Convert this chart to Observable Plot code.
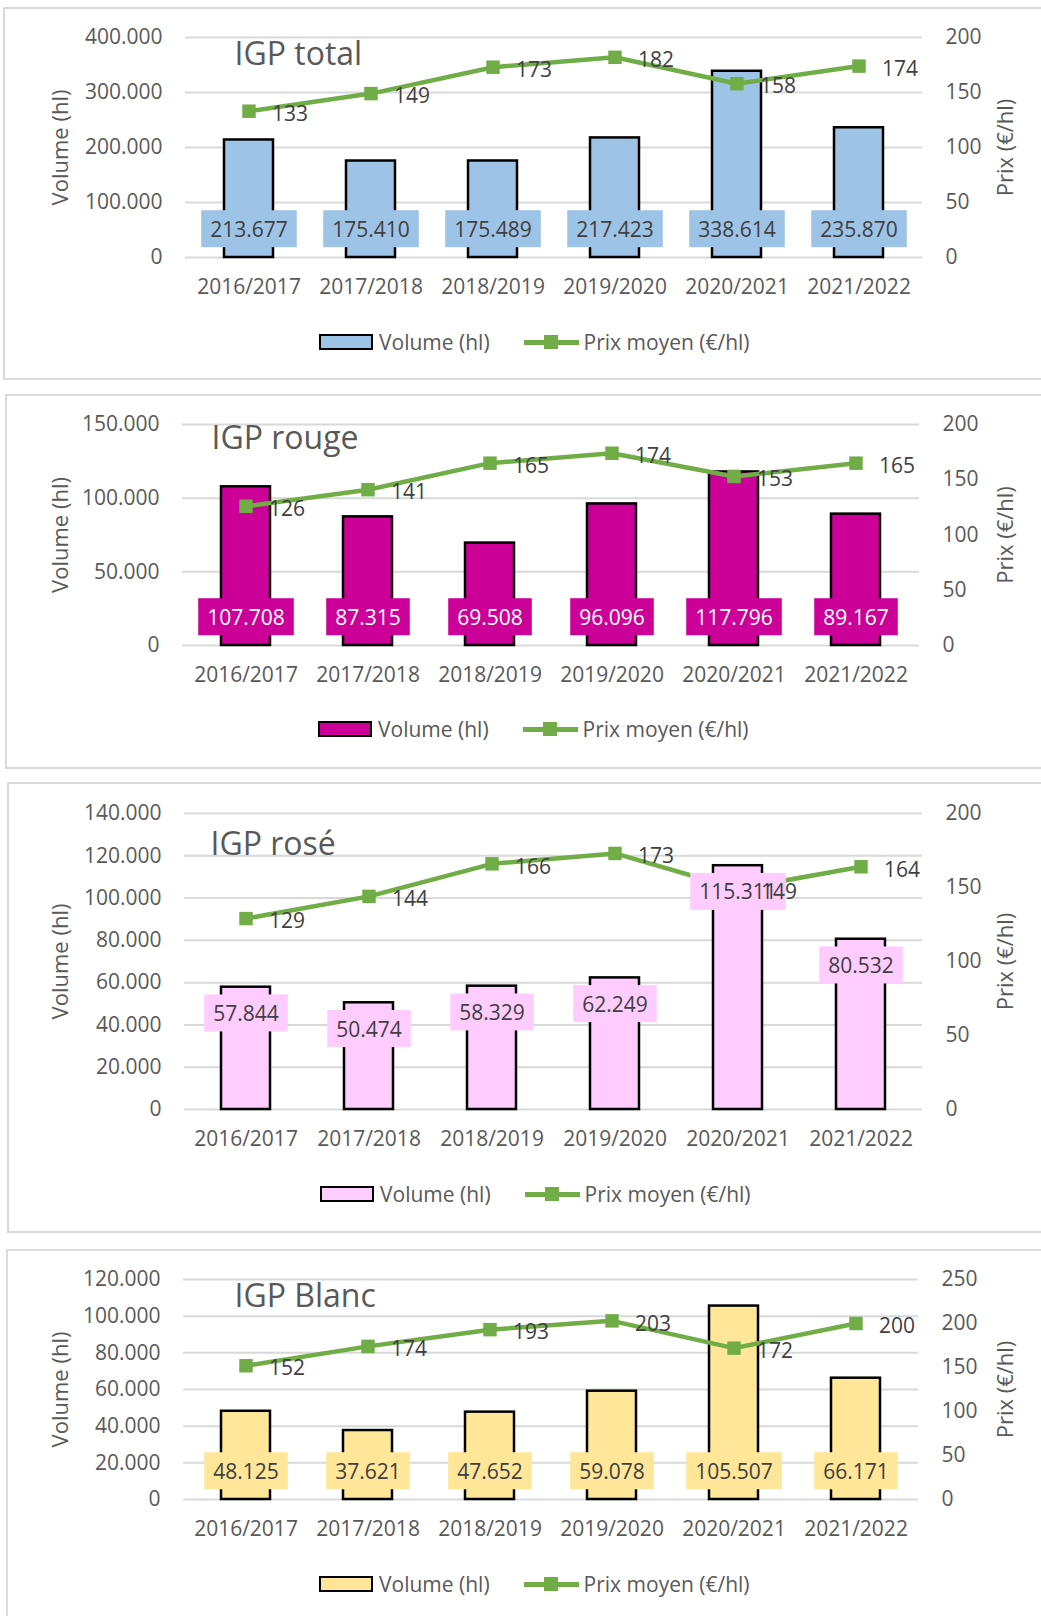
<!DOCTYPE html>
<html><head><meta charset="utf-8">
<script src="https://cdn.jsdelivr.net/npm/d3@7"></script>
<script src="https://cdn.jsdelivr.net/npm/@observablehq/plot@0.6"></script>
<style>
html,body{margin:0;padding:0;background:#fff;overflow:hidden;}
#root{position:relative;width:1041px;height:1616px;overflow:hidden;font-family:"Open Sans",sans-serif;}
.panel{position:absolute;border:2px solid #D9D9D9;box-sizing:border-box;background:#fff;}
.chart{position:absolute;}
.legend{position:absolute;display:flex;align-items:center;height:30px;font-size:21px;color:#595959;white-space:nowrap;}
.sw{width:50px;height:12px;border:2.5px solid #000;margin-right:6px;}
.ln{position:relative;width:55px;height:5px;background:#70AD47;margin-left:34px;margin-right:5px;}
.ln::after{content:"";position:absolute;left:20px;top:-5px;width:14px;height:14px;background:#70AD47;}
</style></head><body><div id="root"></div><script>
const categories = ["2016/2017","2017/2018","2018/2019","2019/2020","2020/2021","2021/2022"];

const totalVolume = [213677,175410,175489,217423,338614,235870];
const totalPrice  = [133,149,173,182,158,174];
const rougeVolume = [107708,87315,69508,96096,117796,89167];
const rougePrice  = [126,141,165,174,153,165];
const roseVolume  = [57844,50474,58329,62249,115311,80532];
const rosePrice   = [129,144,166,173,149,164];
const blancVolume = [48125,37621,47652,59078,105507,66171];
const blancPrice  = [152,174,193,203,172,200];

const titles = ["IGP total","IGP rouge","IGP rosé","IGP Blanc"];
const volumeMax = [400000,150000,140000,120000];
const volumeStep = [100000,50000,20000,20000];
const priceMax = [200,200,200,250];
const priceStep = [50,50,50,50];

const series = [
  {volume: totalVolume, price: totalPrice},
  {volume: rougeVolume, price: rougePrice},
  {volume: roseVolume, price: rosePrice},
  {volume: blancVolume, price: blancPrice}
];

// layout / style per panel (pixels)
const layout = [
  {boxL:4, boxT:8,   boxB:379,  pL:185, pT:37,   pR:922, pB:257,  legY:342,  legX:319, tDx:49, tDy:5,  tSize:32, fill:"#9DC3E6", lab:"#404040", pos:"base"},
  {boxL:6, boxT:395, boxB:768,  pL:182, pT:424,  pR:919, pB:645,  legY:729,  legX:318, tDx:29, tDy:2,  tSize:32, fill:"#CC0099", lab:"#FFFFFF", pos:"base"},
  {boxL:8, boxT:783, boxB:1232, pL:184, pT:813,  pR:922, pB:1109, legY:1194, legX:320, tDx:26, tDy:19, tSize:32, fill:"#FFCCFF", lab:"#404040", pos:"end"},
  {boxL:7, boxT:1250,boxB:1660, pL:183, pT:1279, pR:918, pB:1499, legY:1584, legX:319, tDx:51, tDy:5,  tSize:32, fill:"#FFE699", lab:"#404040", pos:"base"}
];

const fmt = d => d3.format(",")(d).replace(/,/g, ".");
const root = document.getElementById("root");

layout.forEach((L, i) => {
  const panel = document.createElement("div");
  panel.className = "panel";
  Object.assign(panel.style, {left:(L.boxL-1)+"px", top:(L.boxT-1)+"px", width:"1100px", height:(L.boxB-L.boxT+2)+"px"});
  root.appendChild(panel);

  const W = 1041 - L.boxL;
  const H = Math.min(L.boxB, 1616) - L.boxT;
  const k = volumeMax[i] / priceMax[i];
  const s = series[i];
  const data = categories.map((c, j) => ({cat: c, vol: s.volume[j], price: s.price[j], py: s.price[j] * k}));
  const cls = "vlab" + i;

  const chart = Plot.plot({
    width: W, height: H,
    marginLeft: L.pL - L.boxL,
    marginRight: W - (L.pR - L.boxL),
    marginTop: L.pT - L.boxT,
    marginBottom: H - (L.pB - L.boxT),
    style: {fontFamily: "'Open Sans', sans-serif", fontSize: "21px", color: "#595959", background: "transparent", overflow: "visible"},
    x: {domain: categories, paddingInner: 0.6, paddingOuter: 0.3},
    y: {domain: [0, volumeMax[i]]},
    marks: [
      Plot.gridY(d3.range(0, volumeMax[i] + 1, volumeStep[i]), {stroke: "#D9D9D9", strokeOpacity: 1, strokeWidth: 2}),
      Plot.axisY(d3.range(0, volumeMax[i] + 1, volumeStep[i]), {anchor: "left", tickSize: 0, tickPadding: 23, tickFormat: fmt, label: null}),
      Plot.axisY(d3.range(0, priceMax[i] + 1, priceStep[i]).map(v => v * k), {anchor: "right", tickSize: 0, tickPadding: 23, tickFormat: d => String(Math.round(d / k)), label: null}),
      Plot.axisX({tickSize: 0, tickPadding: 22, label: null}),
      Plot.barY(data, {x: "cat", y: "vol", fill: L.fill, stroke: "#000", strokeWidth: 2.5}),
      Plot.line(data, {x: "cat", y: "py", stroke: "#70AD47", strokeWidth: 4.5}),
      Plot.dot(data, {x: "cat", y: "py", symbol: "square", r: 7.6, fill: "#70AD47", stroke: "none"}),
      Plot.text(data, {x: "cat", y: L.pos === "base" ? 0 : "vol", text: d => fmt(d.vol), dy: L.pos === "base" ? -27.5 : 27, fill: L.lab, fontSize: 21, className: cls}),
      Plot.text(data, {x: "cat", y: "py", text: d => String(d.price), dx: 23, dy: 3, textAnchor: "start", fill: "#404040", fontSize: 21}),
      Plot.text([titles[i]], {text: d => d, frameAnchor: "top-left", textAnchor: "start", lineAnchor: "top", dx: L.tDx, dy: L.tDy, fontSize: L.tSize, fill: "#595959"}),
      Plot.text(["Volume (hl)"], {text: d => d, frameAnchor: "left", textAnchor: "middle", rotate: -90, dx: 60 - L.pL, fontSize: 22, fill: "#595959"}),
      Plot.text(["Prix (€/hl)"], {text: d => d, frameAnchor: "right", textAnchor: "middle", rotate: -90, dx: 1005 - L.pR, fontSize: 22, fill: "#595959"})
    ]
  });
  chart.classList.add("chart");
  chart.style.left = L.boxL + "px";
  chart.style.top = L.boxT + "px";
  root.appendChild(chart);

  // background boxes behind volume labels
  chart.querySelectorAll("g." + cls + " text").forEach(t => {
    const b = t.getBBox();
    const r = document.createElementNS("http://www.w3.org/2000/svg", "rect");
    const cy = b.y + b.height / 2;
    r.setAttribute("x", b.x - 9);
    r.setAttribute("width", b.width + 18);
    r.setAttribute("y", cy - 18.5);
    r.setAttribute("height", 37);
    r.setAttribute("fill", L.fill);
    const tr = t.getAttribute("transform");
    if (tr) r.setAttribute("transform", tr);
    t.parentNode.insertBefore(r, t);
  });

  const leg = document.createElement("div");
  leg.className = "legend";
  leg.style.left = L.legX + "px";
  leg.style.top = (L.legY - 15) + "px";
  leg.innerHTML = `<div class="sw" style="background:${L.fill}"></div><span>Volume (hl)</span><div class="ln"></div><span>Prix moyen (€/hl)</span>`;
  root.appendChild(leg);
});
</script></body></html>
